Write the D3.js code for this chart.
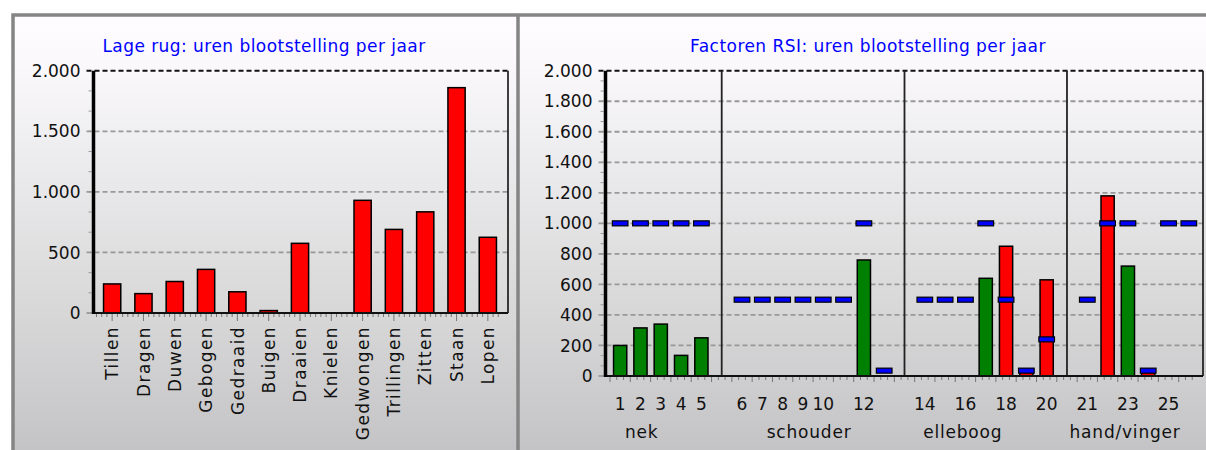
<!DOCTYPE html>
<html>
<head>
<meta charset="utf-8">
<script src="https://cdn.jsdelivr.net/npm/d3@7"></script>
<style>
  html, body { margin: 0; padding: 0; background: #fff; }
  svg { display: block; font-family: "DejaVu Sans", Verdana, sans-serif; }
</style>
</head>
<body>
<div id="figure"></div>
<script>
// ---- data: lage rug ----
const lagCategories = ["Tillen", "Dragen", "Duwen", "Gebogen", "Gedraaid", "Buigen", "Draaien",
                       "Knielen", "Gedwongen", "Trillingen", "Zitten", "Staan", "Lopen"];
const lagHours = [240, 160, 260, 360, 175, 20, 575, 0, 930, 690, 835, 1860, 625];
const lagTicks = [0, 500, 1000, 1500, 2000];

// ---- data: factoren RSI ----
const rsiGroups = ["nek", "schouder", "elleboog", "hand/vinger"];
const rsiGroupSize = [5, 8, 7, 6];
const rsiFactors = [1, 2, 3, 4, 5, 6, 7, 8, 9, 10, 11, 12, 13, 14, 15, 16, 17, 18, 19, 20, 21, 22, 23, 24, 25, 26];
const rsiHours = [200, 315, 340, 135, 250,
                  0, 0, 0, 0, 0, 0, 760, 0,
                  0, 0, 0, 640, 850, 40, 630,
                  0, 1180, 720, 40, 0, 0];
const rsiNorm = [1000, 1000, 1000, 1000, 1000,
                 500, 500, 500, 500, 500, 500, 1000, 35,
                 500, 500, 500, 1000, 500, 35, 240,
                 500, 1000, 1000, 35, 1000, 1000];
const rsiTickLabels = [1, 2, 3, 4, 5, 6, 7, 8, 9, 10, 12, 14, 16, 18, 20, 21, 23, 25];
const rsiTicks = [0, 200, 400, 600, 800, 1000, 1200, 1400, 1600, 1800, 2000];

// ---- layout ----
const W = 1206, H = 450;
const groupLabelShift = [-19, -4, -23, -13];
const nl = d3.formatLocale({decimal: ",", thousands: ".", grouping: [3], currency: ["€", ""]});
const fmt = nl.format(",");

const svg = d3.select("#figure").append("svg")
  .attr("width", W).attr("height", H);

// background gradient
const grad = svg.append("defs").append("linearGradient")
  .attr("id", "bg").attr("x1", 0).attr("y1", 0).attr("x2", 0).attr("y2", 1);
[[0, "#fefcff"], [0.1, "#fbf9fc"], [0.3, "#eeedef"], [0.62, "#dcdbdc"], [1, "#c4c4c6"]]
  .forEach(s => grad.append("stop").attr("offset", s[0]).attr("stop-color", s[1]));

svg.append("rect").attr("x", 13).attr("y", 15).attr("width", W).attr("height", H - 15)
  .attr("fill", "url(#bg)");

// frame
svg.append("path").attr("d", `M13,${H} V15 H${W}`)
  .attr("fill", "none").attr("stroke", "#858585").attr("stroke-width", 3.5);
svg.append("line").attr("x1", 518).attr("x2", 518).attr("y1", 15).attr("y2", H)
  .attr("stroke", "#858585").attr("stroke-width", 3.5);

// common frame for one chart: grid, y labels, axes
function drawFrame(g, box, y, ticks, minorStep) {
  g.selectAll(".grid").data(ticks.filter(t => t > 0)).join("line")
    .attr("x1", box.x0 - 7).attr("x2", box.x1)
    .attr("y1", d => y(d)).attr("y2", d => y(d))
    .attr("stroke", d => d === ticks[ticks.length - 1] ? "#111" : "#999")
    .attr("stroke-width", d => d === ticks[ticks.length - 1] ? 2 : 1.8)
    .attr("stroke-dasharray", "5,3");

  g.append("line").attr("x1", box.x0 - 7).attr("x2", box.x0)
    .attr("y1", y(0)).attr("y2", y(0)).attr("stroke", "#999").attr("stroke-width", 1.8);

  g.selectAll(".minor").data(d3.range(minorStep, ticks[ticks.length - 1], minorStep)).join("line")
    .attr("x1", box.x0 - 5).attr("x2", box.x0 - 2)
    .attr("y1", d => y(d)).attr("y2", d => y(d))
    .attr("stroke", "#999").attr("stroke-width", 1);

  g.selectAll(".ylab").data(ticks).join("text")
    .attr("x", box.x0 - 13).attr("y", d => y(d)).attr("dy", "0.36em")
    .attr("text-anchor", "end").attr("font-size", 17).attr("fill", "#111")
    .text(d => fmt(d));
}

function drawAxes(g, box) {
  g.append("line").attr("x1", box.x1).attr("x2", box.x1).attr("y1", box.y0).attr("y2", box.y1)
    .attr("stroke", "#111").attr("stroke-width", 1.6);
  g.append("line").attr("x1", box.x0).attr("x2", box.x1).attr("y1", box.y1).attr("y2", box.y1)
    .attr("stroke", "#111").attr("stroke-width", 2.2);
  g.append("line").attr("x1", box.x0).attr("x2", box.x0).attr("y1", box.y0).attr("y2", box.y1 + 1)
    .attr("stroke", "#000").attr("stroke-width", 3.5);
}

function title(text, x) {
  svg.append("text").attr("x", x).attr("y", 52).attr("text-anchor", "middle")
    .attr("font-size", 17).attr("letter-spacing", 0.45).attr("fill", "#0000ff").text(text);
}

// ================= left chart =================
const L = {x0: 93.5, x1: 508, y0: 70.7, y1: 313};
const gl = svg.append("g");
const yl = d3.scaleLinear().domain([0, 2000]).range([L.y1, L.y0]);
const xl = d3.scaleBand().domain(lagCategories).range([96.5, 503.5]);
title("Lage rug: uren blootstelling per jaar", 264);
drawFrame(gl, L, yl, lagTicks, 500 / 3);

// x ticks
const lagTickPos = [];
lagCategories.forEach(c => d3.range(6).forEach(k => lagTickPos.push({x: xl(c) + xl.bandwidth() * k / 6, major: k === 3})));
gl.selectAll(".xt").data(lagTickPos).join("line")
  .attr("x1", d => d.x).attr("x2", d => d.x)
  .attr("y1", L.y1).attr("y2", d => L.y1 + (d.major ? 8 : 4))
  .attr("stroke", "#777").attr("stroke-width", 1);

const bwL = xl.bandwidth() * 0.55;
gl.selectAll(".bar").data(lagCategories.map((c, i) => ({c, v: lagHours[i]})).filter(d => d.v > 0)).join("rect")
  .attr("x", d => xl(d.c) + xl.bandwidth() / 2 - bwL / 2)
  .attr("y", d => yl(d.v))
  .attr("width", bwL)
  .attr("height", d => yl(0) - yl(d.v))
  .attr("fill", "#ff0000").attr("stroke", "#000").attr("stroke-width", 1.5);

drawAxes(gl, L);

gl.selectAll(".xlab").data(lagCategories).join("text")
  .attr("transform", d => `translate(${xl(d) + xl.bandwidth() / 2},326) rotate(-90)`)
  .attr("dy", "0.36em").attr("text-anchor", "end")
  .attr("font-size", 17).attr("letter-spacing", 1.4).attr("fill", "#111")
  .text(d => d);

// ================= right chart =================
const R = {x0: 605.5, x1: 1203, y0: 70.7, y1: 376};
const gr = svg.append("g");
const yr = d3.scaleLinear().domain([0, 2000]).range([R.y1, R.y0]);

// slot per factor, with one empty slot between groups
const groupOf = [];
rsiGroupSize.forEach((n, g) => d3.range(n).forEach(() => groupOf.push(g)));
const slotOf = rsiFactors.map((f, i) => i + groupOf[i]);
const nSlots = rsiFactors.length + rsiGroups.length - 1;
const xr = d3.scaleBand().domain(d3.range(nSlots)).range([610, 1199]);
const cx = s => xr(s) + xr.bandwidth() / 2;
const sepSlots = d3.cumsum(rsiGroupSize).slice(0, -1).map((c, g) => c + g);

title("Factoren RSI: uren blootstelling per jaar", 868);
drawFrame(gr, R, yr, rsiTicks, 200 / 3);

// x ticks
const rsiTickPos = [];
d3.range(nSlots).forEach(s => d3.range(3).forEach(k => rsiTickPos.push({x: xr(s) + xr.bandwidth() * k / 3, major: k === 0})));
gr.selectAll(".xt").data(rsiTickPos).join("line")
  .attr("x1", d => d.x).attr("x2", d => d.x)
  .attr("y1", R.y1).attr("y2", d => R.y1 + (d.major ? 6 : 4))
  .attr("stroke", "#777").attr("stroke-width", 1);

// group separators
gr.selectAll(".sep").data(sepSlots).join("line")
  .attr("x1", d => cx(d)).attr("x2", d => cx(d))
  .attr("y1", R.y0).attr("y2", R.y1)
  .attr("stroke", "#222").attr("stroke-width", 1.8);

const rsiData = rsiFactors.map((f, i) => ({f, s: slotOf[i], v: rsiHours[i], n: rsiNorm[i]}));
const bwR = xr.bandwidth() * 0.65;
gr.selectAll(".bar").data(rsiData.filter(d => d.v > 0)).join("rect")
  .attr("x", d => cx(d.s) - bwR / 2)
  .attr("y", d => yr(d.v))
  .attr("width", bwR)
  .attr("height", d => yr(0) - yr(d.v))
  .attr("fill", d => d.v > d.n ? "#ff0000" : "#008000")
  .attr("stroke", "#000").attr("stroke-width", 1.5);

drawAxes(gr, R);

// norm markers
const mw = xr.bandwidth() * 0.77;
gr.selectAll(".norm").data(rsiData).join("rect")
  .attr("x", d => cx(d.s) - mw / 2)
  .attr("y", d => yr(d.n) - 2.5)
  .attr("width", mw).attr("height", 5)
  .attr("fill", "#0000ff").attr("stroke", "#000").attr("stroke-width", 1.2);

gr.selectAll(".xlab").data(rsiTickLabels).join("text")
  .attr("x", d => cx(slotOf[rsiFactors.indexOf(d)]))
  .attr("y", 404).attr("dy", "0.36em").attr("text-anchor", "middle")
  .attr("font-size", 17).attr("fill", "#111")
  .text(d => d);

gr.selectAll(".glab").data(rsiGroups).join("text")
  .attr("x", (d, g) => {
    const first = slotOf[d3.sum(rsiGroupSize.slice(0, g))];
    const last = first + rsiGroupSize[g] - 1;
    return (cx(first) + cx(last)) / 2 + groupLabelShift[g];
  })
  .attr("y", 432).attr("dy", "0.36em").attr("text-anchor", "middle")
  .attr("font-size", 17).attr("letter-spacing", 0.8).attr("fill", "#111")
  .text(d => d);
</script>
</body>
</html>
